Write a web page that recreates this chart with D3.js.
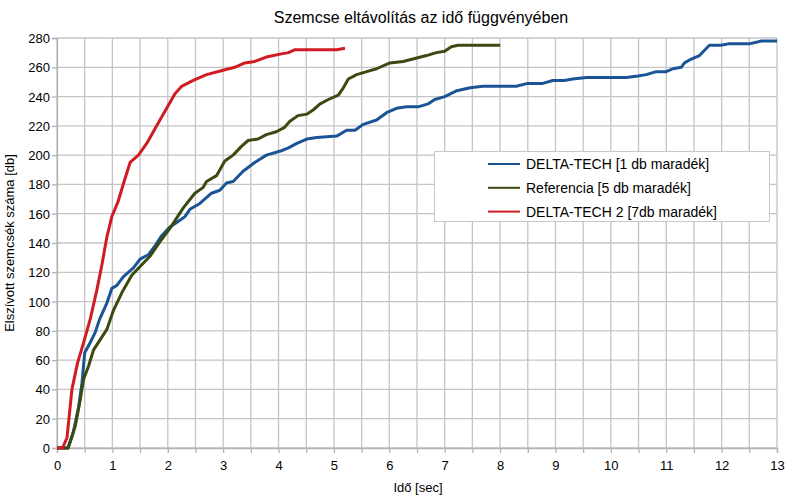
<!DOCTYPE html>
<html>
<head>
<meta charset="utf-8">
<script src="https://cdn.jsdelivr.net/npm/d3@7"></script>
<style>
  body { margin: 0; background: #fff; }
  text { font-family: "Liberation Sans", Arial, sans-serif; fill: #000; }
</style>
</head>
<body>
<div id="chart"></div>
<script>
// series data (time in sec, count in db)
var blueT = [0, 0.2, 0.29, 0.39, 0.45, 0.5, 0.6, 0.69, 0.77, 0.9, 0.99, 1.08, 1.2, 1.38, 1.5, 1.65, 1.77, 1.89, 2.04, 2.2, 2.31, 2.4, 2.58, 2.79, 2.94, 3.06, 3.18, 3.36, 3.57, 3.78, 4.05, 4.18, 4.33, 4.51, 4.69, 5.05, 5.23, 5.38, 5.53, 5.77, 5.95, 6.13, 6.31, 6.52, 6.7, 6.82, 7.0, 7.22, 7.46, 7.69, 8.29, 8.5, 8.77, 8.95, 9.16, 9.31, 9.56, 10.28, 10.49, 10.64, 10.82, 11.0, 11.12, 11.27, 11.33, 11.42, 11.6, 11.78, 11.99, 12.12, 12.5, 12.72, 13.0];
var blueV = [0, 0, 10, 28, 44, 65, 72, 79, 88, 99, 109, 111, 117, 123, 129, 132, 138, 145, 151, 155, 158, 163, 167, 174, 176, 181, 182, 189, 195, 200, 203, 205, 208, 211, 212, 213, 217, 217, 221, 224, 229, 232, 233, 233, 235, 238, 240, 244, 246, 247, 247, 249, 249, 251, 251, 252, 253, 253, 254, 255, 257, 257, 259, 260, 263, 265, 268, 275, 275, 276, 276, 278, 278];

var greenT = [0, 0.2, 0.33, 0.42, 0.48, 0.57, 0.66, 0.78, 0.9, 1.02, 1.17, 1.35, 1.5, 1.68, 1.86, 2.04, 2.28, 2.49, 2.64, 2.7, 2.88, 3.03, 3.18, 3.33, 3.45, 3.63, 3.78, 3.96, 4.11, 4.2, 4.35, 4.51, 4.63, 4.75, 4.9, 5.08, 5.17, 5.26, 5.41, 5.59, 5.77, 6.01, 6.25, 6.46, 6.67, 6.85, 7.0, 7.12, 7.24, 8.0];
var greenV = [0, 0, 15, 33, 47, 56, 67, 74, 81, 94, 106, 118, 124, 131, 141, 150, 164, 174, 178, 182, 186, 196, 200, 206, 210, 211, 214, 216, 219, 223, 227, 228, 231, 235, 238, 241, 246, 252, 255, 257, 259, 263, 264, 266, 268, 270, 271, 274, 275, 275];

var redT = [0, 0.1, 0.18, 0.27, 0.37, 0.48, 0.6, 0.72, 0.81, 0.9, 0.99, 1.1, 1.22, 1.32, 1.47, 1.62, 1.8, 1.98, 2.13, 2.25, 2.46, 2.7, 3.0, 3.21, 3.39, 3.57, 3.78, 4.03, 4.18, 4.3, 5.05, 5.2];
var redV = [0, 0, 7, 40, 58, 72, 88, 108, 125, 144, 158, 168, 183, 195, 200, 208, 220, 232, 242, 247, 251, 255, 258, 260, 263, 264, 267, 269, 270, 272, 272, 273];

var seriesNames = ["DELTA-TECH [1 db maradék]", "Referencia [5 db maradék]", "DELTA-TECH 2 [7db maradék]"];
var seriesColors = ["#1b5494", "#3b4a10", "#d11b22"];
var xTicks = d3.range(0, 14, 1);
var yTicks = d3.range(0, 281, 20);

var W = 800, H = 502;
var margin = {top: 38, right: 23, bottom: 54, left: 57};
var width = W - margin.left - margin.right,
    height = H - margin.top - margin.bottom;

var svg = d3.select("#chart")
    .append("svg")
    .attr("width", W)
    .attr("height", H);

var g = svg.append("g")
    .attr("transform", "translate(" + margin.left + "," + margin.top + ")");

var x = d3.scaleLinear().domain([0, 13]).range([0, width]);
var y = d3.scaleLinear().domain([0, 280]).range([height, 0]);

// grid: vertical every 0.5 sec, horizontal every 20
g.append("g")
    .selectAll("line")
    .data(d3.range(0, 13.01, 0.5))
    .enter()
    .append("line")
    .attr("x1", function(d) { return x(d); })
    .attr("x2", function(d) { return x(d); })
    .attr("y1", 0)
    .attr("y2", height)
    .attr("stroke", "#c4c4c4")
    .attr("stroke-width", 1.3);

g.append("g")
    .selectAll("line")
    .data(yTicks)
    .enter()
    .append("line")
    .attr("x1", 0)
    .attr("x2", width)
    .attr("y1", function(d) { return y(d); })
    .attr("y2", function(d) { return y(d); })
    .attr("stroke", "#c4c4c4")
    .attr("stroke-width", 1.3);

// axes
var xAxis = g.append("g")
    .attr("transform", "translate(0," + height + ")")
    .call(d3.axisBottom(x).tickValues(d3.range(0, 13.01, 0.5)).tickSize(5).tickFormat(function(d) {
        return d % 1 === 0 ? d : "";
    }));
var yAxis = g.append("g")
    .call(d3.axisLeft(y).tickValues(yTicks).tickSize(5));

[xAxis, yAxis].forEach(function(a) {
    a.select(".domain").attr("stroke", "#b3b3b3").attr("stroke-width", 1.3);
    a.selectAll(".tick line").attr("stroke", "#b3b3b3").attr("stroke-width", 1.3);
    a.selectAll(".tick text").style("font-size", "13px").attr("fill", "#000");
});
xAxis.selectAll(".tick text").attr("dy", "1.05em");
yAxis.selectAll(".tick text").attr("dy", "0.35em").attr("x", -7);

// lines
var line = d3.line()
    .x(function(d) { return x(d[0]); })
    .y(function(d) { return y(d[1]); });

var series = [
    d3.zip(blueT, blueV),
    d3.zip(greenT, greenV),
    d3.zip(redT, redV)
];

g.append("g")
    .selectAll("path")
    .data(series)
    .enter()
    .append("path")
    .attr("d", line)
    .attr("fill", "none")
    .attr("stroke", function(d, i) { return seriesColors[i]; })
    .attr("stroke-width", 3)
    .attr("stroke-linejoin", "round");

// titles
svg.append("text")
    .attr("x", 421)
    .attr("y", 23)
    .attr("text-anchor", "middle")
    .style("font-size", "16px")
    .text("Szemcse eltávolítás az idő függvényében");

svg.append("text")
    .attr("x", 418)
    .attr("y", 492)
    .attr("text-anchor", "middle")
    .style("font-size", "13px")
    .text("Idő [sec]");

svg.append("text")
    .attr("transform", "translate(14," + (margin.top + height / 2) + ") rotate(-90)")
    .attr("text-anchor", "middle")
    .style("font-size", "13px")
    .text("Elszívott szemcsék száma [db]");

// legend
var legend = svg.append("g");
legend.append("rect")
    .attr("x", 434.5)
    .attr("y", 151.5)
    .attr("width", 335)
    .attr("height", 70)
    .attr("fill", "#fff")
    .attr("stroke", "#c8c8c8");

var rows = legend.selectAll("g.row")
    .data(seriesNames)
    .enter()
    .append("g")
    .attr("class", "row")
    .attr("transform", function(d, i) { return "translate(0," + (164 + i * 23.8) + ")"; });

rows.append("line")
    .attr("x1", 488)
    .attr("x2", 520)
    .attr("stroke", function(d, i) { return seriesColors[i]; })
    .attr("stroke-width", 2);

rows.append("text")
    .attr("x", 526)
    .attr("dy", "0.36em")
    .style("font-size", "14px")
    .text(function(d) { return d; });
</script>
</body>
</html>
